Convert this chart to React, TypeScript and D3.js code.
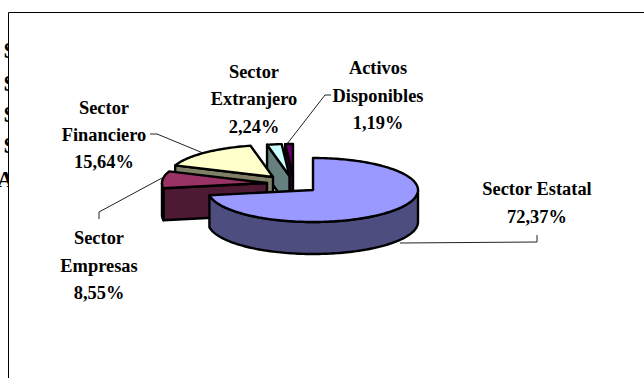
import React from "react";
import * as d3 from "d3";

const categories = ["Sector Estatal", "Sector Empresas", "Sector Financiero", "Sector Extranjero", "Activos Disponibles"];
const values = [72.37, 8.55, 15.64, 2.24, 1.19];
const percentLabels = ["72,37%", "8,55%", "15,64%", "2,24%", "1,19%"];
const topColors = ["#9999FF", "#993366", "#FFFFCC", "#CCFFFF", "#660066"];
const sideColors = ["#4D4D80", "#4D1933", "#808066", "#668080", "#330033"];
const clippedTicks = ["S", "S", "S", "S", "A"];

const W = 644, H = 378, RX = 105, RY = 32, DEPTH = 32;
const centers: [number, number][] = [[313, 190], [267, 183], [273, 177], [289.5, 176], [293, 176]];
const labelLayout = [
  { x: 537, ys: [195, 223], lines: ["Sector Estatal"] },
  { x: 99, ys: [244, 272, 299], lines: ["Sector", "Empresas"] },
  { x: 104, ys: [114, 141, 168], lines: ["Sector", "Financiero"] },
  { x: 254, ys: [78, 105, 133], lines: ["Sector", "Extranjero"] },
  { x: 378, ys: [74, 102, 129], lines: ["Activos", "Disponibles"] },
];
const leaders: [number, number][][] = [
  [[400, 243], [537, 242], [537, 235]],
  [[162, 178], [99, 212], [99, 219]],
  [[150, 134], [157, 134], [203, 153]],
  [[287, 144], [325, 95], [331, 95]],
];

const pie = d3.pie<number>().sort(null).value((d) => d);
const line = d3.line<[number, number]>();

export default function App() {
  const arcs = pie(values);
  const pt = (i: number, a: number, r = 1, dy = 0): [number, number] => [
    centers[i][0] + RX * r * Math.sin(a),
    centers[i][1] - RY * r * Math.cos(a) + dy,
  ];
  const sweep = (i: number, a0: number, a1: number, dy = 0) => {
    const n = Math.max(2, Math.ceil(Math.abs(a1 - a0) * 40));
    return d3.range(n + 1).map((k) => pt(i, a0 + ((a1 - a0) * k) / n, 1, dy));
  };
  const order = [4, 3, 2, 1, 0];
  const tickY = [58, 91, 122, 153, 187];
  return (
    <svg width={W} height={H} style={{ position: "absolute", left: 0, top: 0 }} fontFamily="'Liberation Serif'">
      <rect width={W} height={H} fill="#fff" />
      <defs>
        <clipPath id="leftClip"><rect x={0} y={0} width={8} height={H} /></clipPath>
      </defs>
      <g clipPath="url(#leftClip)" fontSize={23} fontWeight="bold" fill="#000">
        {clippedTicks.map((t, i) => (
          <text key={i} x={i === 4 ? -3 : 3.5} y={tickY[i]}>{t}</text>
        ))}
      </g>
      <path d="M8.5,378V12.5H644" fill="none" stroke="#000" strokeWidth={1} />
      {leaders.map((l, i) => (
        <path key={i} d={line(l) ?? ""} fill="none" stroke="#222" strokeWidth={1} />
      ))}
      {order.map((i) => {
        const { startAngle: a0, endAngle: a1 } = arcs[i];
        const c = centers[i];
        const lo = Math.max(a0, Math.PI / 2);
        const hi = Math.min(a1, (3 * Math.PI) / 2);
        const common = { stroke: "#000", strokeWidth: 2.4, strokeLinejoin: "round" as const };
        return (
          <g key={i}>
            {i !== 0 && (
              <path
                d={(line([pt(i, a0), c, [c[0], c[1] + DEPTH], pt(i, a0, 1, DEPTH)]) ?? "") + "Z"}
                fill={sideColors[i]}
                {...common}
              />
            )}
            {hi > lo && (
              <path
                d={(line([...sweep(i, lo, hi), ...sweep(i, hi, lo, DEPTH)]) ?? "") + "Z"}
                fill={sideColors[i]}
                {...common}
              />
            )}
            <path d={(line([c, ...sweep(i, a0, a1)]) ?? "") + "Z"} fill={topColors[i]} {...common} />
          </g>
        );
      })}
      <g fontSize={18.4} fontWeight="bold" textAnchor="middle" fill="#000">
        {labelLayout.map((l, i) => {
          const rows = [...l.lines, percentLabels[i]];
          return rows.map((r, k) => (
            <text key={k} x={l.x} y={l.ys[k]}>{r}</text>
          ));
        })}
      </g>
    </svg>
  );
}
